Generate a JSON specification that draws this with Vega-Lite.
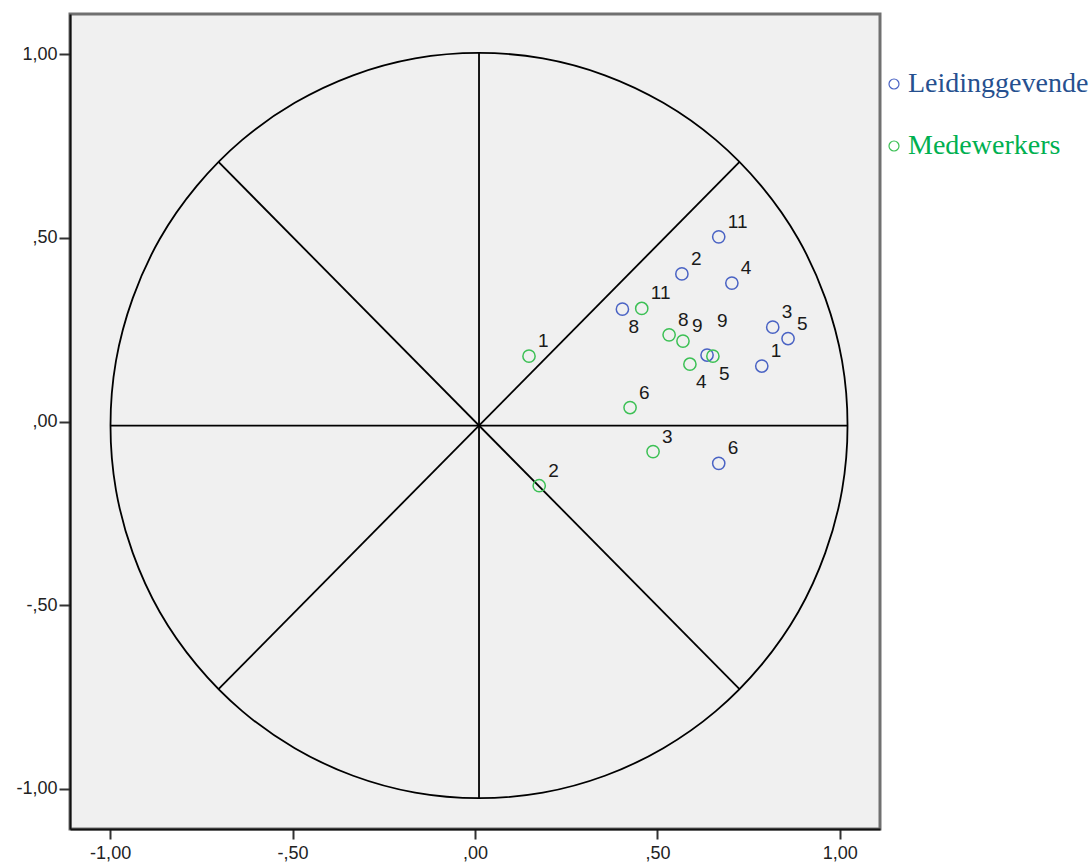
{
  "$schema": "https://vega.github.io/schema/vega-lite/v6.json",
  "width": 810,
  "height": 815,
  "autosize": {"type": "none"},
  "padding": {"left": 70, "top": 14, "right": 210, "bottom": 34},
  "background": "white",
  "config": {
    "view": {"fill": "#f0f0f0", "stroke": "#707070", "strokeWidth": 3},
    "axis": {
      "grid": false,
      "domainColor": "#111111",
      "domainWidth": 2,
      "tickColor": "#333333",
      "tickWidth": 2,
      "labelFont": "Liberation Sans",
      "labelFontSize": 18,
      "labelColor": "#222222",
      "title": null
    }
  },
  "datasets": {
    "punten": [
      {"groep": "Leidinggevende", "nr": "11", "x": 0.668, "y": 0.503},
      {"groep": "Leidinggevende", "nr": "2", "x": 0.567, "y": 0.402},
      {"groep": "Leidinggevende", "nr": "4", "x": 0.704, "y": 0.377},
      {"groep": "Leidinggevende", "nr": "8", "x": 0.404, "y": 0.306},
      {"groep": "Leidinggevende", "nr": "3", "x": 0.816, "y": 0.257},
      {"groep": "Leidinggevende", "nr": "5", "x": 0.858, "y": 0.226},
      {"groep": "Leidinggevende", "nr": "9", "x": 0.636, "y": 0.181},
      {"groep": "Leidinggevende", "nr": "1", "x": 0.786, "y": 0.151},
      {"groep": "Leidinggevende", "nr": "6", "x": 0.668, "y": -0.114},
      {"groep": "Medewerkers", "nr": "1", "x": 0.148, "y": 0.178},
      {"groep": "Medewerkers", "nr": "11", "x": 0.457, "y": 0.308},
      {"groep": "Medewerkers", "nr": "8", "x": 0.532, "y": 0.236},
      {"groep": "Medewerkers", "nr": "9", "x": 0.570, "y": 0.219},
      {"groep": "Medewerkers", "nr": "4", "x": 0.589, "y": 0.156},
      {"groep": "Medewerkers", "nr": "5", "x": 0.652, "y": 0.178},
      {"groep": "Medewerkers", "nr": "6", "x": 0.425, "y": 0.038},
      {"groep": "Medewerkers", "nr": "3", "x": 0.488, "y": -0.082},
      {"groep": "Medewerkers", "nr": "2", "x": 0.176, "y": -0.175}
    ],
    "spaken": [
      {"x": -0.999, "y": -0.011, "x2": 1.021, "y2": -0.011},
      {"x": 0.011, "y": 1.004, "x2": 0.011, "y2": -1.026},
      {"x": -0.703, "y": -0.729, "x2": 0.725, "y2": 0.707},
      {"x": -0.703, "y": 0.707, "x2": 0.725, "y2": -0.729}
    ],
    "cirkel": [
      {"i": 0, "x": 1.021, "y": -0.011},
      {"i": 1, "x": 1.006, "y": 0.165},
      {"i": 2, "x": 0.960, "y": 0.336},
      {"i": 3, "x": 0.886, "y": 0.497},
      {"i": 4, "x": 0.785, "y": 0.641},
      {"i": 5, "x": 0.660, "y": 0.767},
      {"i": 6, "x": 0.516, "y": 0.868},
      {"i": 7, "x": 0.356, "y": 0.943},
      {"i": 8, "x": 0.186, "y": 0.989},
      {"i": 9, "x": 0.011, "y": 1.004},
      {"i": 10, "x": -0.164, "y": 0.989},
      {"i": 11, "x": -0.334, "y": 0.943},
      {"i": 12, "x": -0.494, "y": 0.868},
      {"i": 13, "x": -0.638, "y": 0.767},
      {"i": 14, "x": -0.763, "y": 0.641},
      {"i": 15, "x": -0.864, "y": 0.497},
      {"i": 16, "x": -0.938, "y": 0.336},
      {"i": 17, "x": -0.984, "y": 0.165},
      {"i": 18, "x": -0.999, "y": -0.011},
      {"i": 19, "x": -0.984, "y": -0.187},
      {"i": 20, "x": -0.938, "y": -0.358},
      {"i": 21, "x": -0.864, "y": -0.519},
      {"i": 22, "x": -0.763, "y": -0.663},
      {"i": 23, "x": -0.638, "y": -0.789},
      {"i": 24, "x": -0.494, "y": -0.890},
      {"i": 25, "x": -0.334, "y": -0.965},
      {"i": 26, "x": -0.164, "y": -1.011},
      {"i": 27, "x": 0.011, "y": -1.026},
      {"i": 28, "x": 0.186, "y": -1.011},
      {"i": 29, "x": 0.356, "y": -0.965},
      {"i": 30, "x": 0.516, "y": -0.890},
      {"i": 31, "x": 0.660, "y": -0.789},
      {"i": 32, "x": 0.785, "y": -0.663},
      {"i": 33, "x": 0.886, "y": -0.519},
      {"i": 34, "x": 0.960, "y": -0.358},
      {"i": 35, "x": 1.006, "y": -0.187}
    ]
  },
  "encoding": {
    "x": {
      "field": "x",
      "type": "quantitative",
      "scale": {"domain": [-1.11, 1.11], "nice": false, "zero": false},
      "axis": {
        "values": [-1, -0.5, 0, 0.5, 1],
        "tickSize": 10,
        "labelPadding": 5,
        "labelExpr": "replace(replace(replace(format(datum.value, '.2f'), '\u2212', '-'), '0.', '.'), '.', ',')"
      }
    },
    "y": {
      "field": "y",
      "type": "quantitative",
      "scale": {"domain": [-1.11, 1.11], "nice": false, "zero": false},
      "axis": {
        "values": [-1, -0.5, 0, 0.5, 1],
        "tickSize": 11,
        "labelPadding": 2,
        "labelExpr": "replace(replace(replace(format(datum.value, '.2f'), '\u2212', '-'), '0.', '.'), '.', ',')"
      }
    }
  },
  "layer": [
    {
      "data": {"name": "spaken"},
      "mark": {"type": "rule", "color": "#000000", "strokeWidth": 1.8},
      "encoding": {"x2": {"field": "x2"}, "y2": {"field": "y2"}}
    },
    {
      "data": {"name": "cirkel"},
      "mark": {"type": "line", "interpolate": "cardinal-closed", "color": "#000000", "strokeWidth": 1.8},
      "encoding": {"order": {"field": "i", "type": "quantitative"}}
    },
    {
      "data": {"name": "punten"},
      "mark": {"type": "point", "shape": "circle", "filled": false, "size": 150, "strokeWidth": 1.5, "opacity": 1},
      "encoding": {
        "color": {
          "field": "groep",
          "type": "nominal",
          "scale": {"domain": ["Leidinggevende", "Medewerkers"], "range": ["#4a63c4", "#3cc055"]},
          "legend": {
            "orient": "none",
            "legendX": 810,
            "legendY": 56,
            "title": null,
            "padding": 0,
            "symbolType": "circle",
            "symbolSize": 100,
            "symbolStrokeWidth": 1.2,
            "symbolFillColor": "transparent",
            "labelFont": "Liberation Serif",
            "labelFontSize": 28,
            "labelColor": {"expr": "datum.value === 'Medewerkers' ? '#00b050' : '#26508f'"},
            "labelOffset": 0,
            "labelLimit": 500,
            "rowPadding": 34
          }
        }
      }
    },
    {
      "data": {"name": "punten"},
      "transform": [{"filter": "!((datum.groep == 'Leidinggevende' && (datum.nr == '8' || datum.nr == '9')) || (datum.groep == 'Medewerkers' && (datum.nr == '4' || datum.nr == '5')))"}],
      "mark": {"type": "text", "font": "Liberation Sans", "fontSize": 19, "align": "left", "baseline": "middle", "dx": 9, "dy": -15, "color": "#1a1a1a"},
      "encoding": {"text": {"field": "nr"}}
    },
    {
      "data": {"name": "punten"},
      "transform": [{"filter": "(datum.groep == 'Leidinggevende' && datum.nr == '8') || (datum.groep == 'Medewerkers' && (datum.nr == '4' || datum.nr == '5'))"}],
      "mark": {"type": "text", "font": "Liberation Sans", "fontSize": 19, "align": "left", "baseline": "middle", "dx": 6, "dy": 18, "color": "#1a1a1a"},
      "encoding": {"text": {"field": "nr"}}
    },
    {
      "data": {"name": "punten"},
      "transform": [{"filter": "datum.groep == 'Leidinggevende' && datum.nr == '9'"}],
      "mark": {"type": "text", "font": "Liberation Sans", "fontSize": 19, "align": "left", "baseline": "middle", "dx": 10, "dy": -34, "color": "#1a1a1a"},
      "encoding": {"text": {"field": "nr"}}
    }
  ]
}
